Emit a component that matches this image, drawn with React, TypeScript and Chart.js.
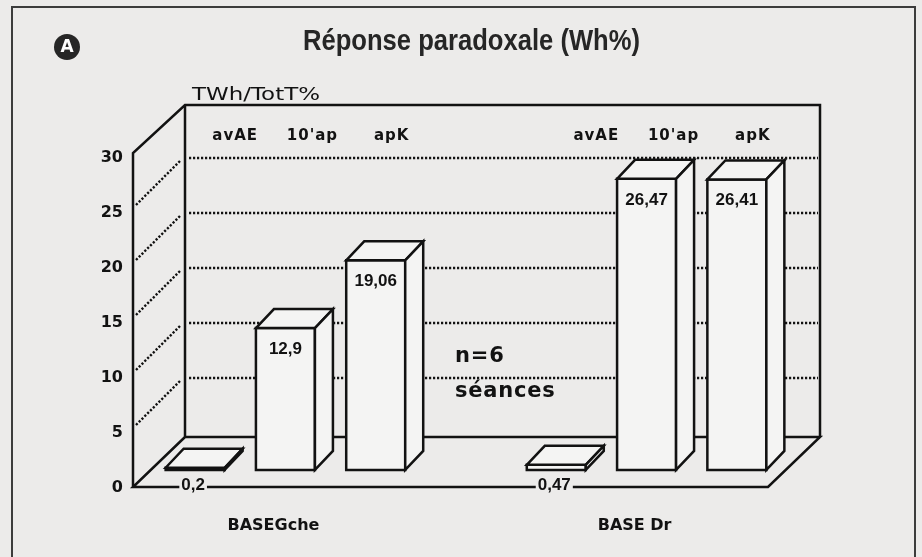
import React, { useEffect, useRef } from "react";
import { Chart, registerables } from "chart.js";

Chart.register(...registerables);

// ---------- data ----------
const CATEGORIES = ["avAE", "10'ap", "apK", "", "avAE", "10'ap", "apK"];
const VALUES: (number | null)[] = [0.2, 12.9, 19.06, null, 0.47, 26.47, 26.41];
const GROUP_LABELS = ["BASEGche", "BASE Dr"];
const GROUP_MIDDLE_INDEX = [1, 5];
const Y_TICKS = [0, 5, 10, 15, 20, 25, 30];
const TITLE = "Réponse paradoxale (Wh%)";
const Y_TITLE = "TWh/TotT%";
const NOTE_LINES = ["n=6", "séances"];
const BADGE = "A";

// ---------- style / layout ----------
const PAPER = "#ecebea";
const BAR_FILL = "#f4f4f3";
const INK = "#121212";
const DEPTH = 52; // floor depth in px
const BAR_DX = 18;
const BAR_DY = -19;
const TOP_LABEL_SHIFT = [40, 27, 16];

function fmt(v: number) {
  return String(v).replace(".", ",");
}

function fitText(
  ctx: CanvasRenderingContext2D,
  text: string,
  x: number,
  y: number,
  font: string,
  width: number,
  align: CanvasTextAlign
) {
  ctx.save();
  ctx.font = font;
  const w = ctx.measureText(text).width;
  const s = width / w;
  ctx.translate(x, y);
  ctx.scale(s, 1);
  ctx.textAlign = align;
  ctx.textBaseline = "alphabetic";
  ctx.fillText(text, 0, 0);
  ctx.restore();
}

const decorPlugin = {
  id: "decor3d",
  beforeDraw(chart: any) {
    const ctx: CanvasRenderingContext2D = chart.ctx;
    const ys = chart.scales.y;
    const xs = chart.scales.x;
    ctx.save();
    ctx.fillStyle = PAPER;
    ctx.fillRect(0, 0, chart.width, chart.height);

    // outer frame
    ctx.strokeStyle = "#3c3c3c";
    ctx.lineWidth = 2;
    ctx.strokeRect(12, 7, 903, 600);

    // badge
    ctx.fillStyle = "#262626";
    ctx.beginPath();
    ctx.arc(67, 47, 13, 0, Math.PI * 2);
    ctx.fill();
    ctx.fillStyle = "#ffffff";
    ctx.font = "bold 17px 'DejaVu Sans', sans-serif";
    ctx.textAlign = "center";
    ctx.textBaseline = "middle";
    ctx.fillText(BADGE, 67, 48);

    // title
    ctx.fillStyle = "#262626";
    fitText(ctx, TITLE, 471.5, 50, "bold 30px 'Liberation Sans Narrow', 'Liberation Sans', sans-serif", 337, "center");

    // y title
    ctx.fillStyle = INK;
    fitText(ctx, Y_TITLE, 192, 100, "18px 'DejaVu Sans', sans-serif", 128, "left");

    // geometry
    const floorFront = ys.getPixelForValue(0) - 1;
    const floorBack = floorFront - DEPTH + 2;
    const frontLeft = 133;
    const backLeft = frontLeft + DEPTH;
    const backRight = 820;
    const frontRight = backRight - DEPTH;
    const wallTop = 105;
    const frontTop = 153;

    // dotted gridlines on back wall
    ctx.strokeStyle = INK;
    ctx.lineWidth = 2.4;
    ctx.setLineDash([2.2, 1.8]);
    for (const v of Y_TICKS) {
      const by = ys.getPixelForValue(v);
      if (by > floorBack - 8) continue;
      ctx.beginPath();
      ctx.moveTo(backLeft + 4, by);
      ctx.lineTo(backRight - 2, by);
      ctx.stroke();
      // left wall diagonals
      ctx.beginPath();
      ctx.moveTo(frontLeft + 3, by + DEPTH - 5);
      ctx.lineTo(backLeft - 4, by + 2);
      ctx.stroke();
    }
    ctx.setLineDash([]);

    // walls & floor outline
    ctx.lineWidth = 2.5;
    ctx.lineJoin = "miter";
    ctx.beginPath();
    ctx.moveTo(frontLeft, floorFront);
    ctx.lineTo(frontLeft, frontTop);
    ctx.lineTo(backLeft, wallTop);
    ctx.lineTo(backRight, wallTop);
    ctx.lineTo(backRight, floorBack);
    ctx.moveTo(backLeft, wallTop);
    ctx.lineTo(backLeft, floorBack);
    ctx.lineTo(backRight, floorBack);
    ctx.lineTo(frontRight, floorFront);
    ctx.lineTo(frontLeft, floorFront);
    ctx.lineTo(backLeft, floorBack);
    ctx.stroke();

    // y tick labels
    ctx.fillStyle = INK;
    ctx.font = "bold 16px 'DejaVu Sans', sans-serif";
    ctx.textAlign = "right";
    ctx.textBaseline = "middle";
    for (const v of Y_TICKS) {
      ctx.fillText(String(v), 123, ys.getPixelForValue(v));
    }

    // category labels along top of back wall
    ctx.font = "bold 15px 'DejaVu Sans', sans-serif";
    (ctx as any).letterSpacing = "1px";
    ctx.textAlign = "center";
    ctx.textBaseline = "alphabetic";
    const labels: string[] = xs.getLabels();
    let pos = 0;
    labels.forEach((lab, i) => {
      if (!lab) {
        pos = 0;
        return;
      }
      ctx.fillText(lab, xs.getPixelForValue(i) + TOP_LABEL_SHIFT[pos % 3], 140);
      pos++;
    });
    (ctx as any).letterSpacing = "0px";

    // group labels
    ctx.font = "bold 16px 'DejaVu Sans', sans-serif";
    GROUP_LABELS.forEach((g, k) => {
      ctx.fillText(g, xs.getPixelForValue(GROUP_MIDDLE_INDEX[k]) - 12, 530);
    });

    // note
    ctx.textAlign = "left";
    ctx.font = "bold 21px 'DejaVu Sans', sans-serif";
    (ctx as any).letterSpacing = "0.8px";
    ctx.fillText(NOTE_LINES[0], 455, 362);
    ctx.fillText(NOTE_LINES[1], 455, 397);
    (ctx as any).letterSpacing = "0px";
    ctx.restore();
  },
  afterDatasetsDraw(chart: any) {
    const ctx: CanvasRenderingContext2D = chart.ctx;
    const meta = chart.getDatasetMeta(0);
    const data = chart.data.datasets[0].data as (number | null)[];
    ctx.save();
    ctx.strokeStyle = INK;
    ctx.lineWidth = 2.5;
    ctx.lineJoin = "miter";
    meta.data.forEach((el: any, i: number) => {
      const v = data[i];
      if (v === null || v === undefined) return;
      const { x, y, base, width } = el.getProps(["x", "y", "base", "width"], true);
      const l = x - width / 2;
      const r = x + width / 2;
      const top = Math.min(y, base - 2);
      ctx.fillStyle = BAR_FILL;
      // front
      ctx.beginPath();
      ctx.rect(l, top, width, base - top);
      ctx.fill();
      ctx.stroke();
      // top face
      ctx.beginPath();
      ctx.moveTo(l, top);
      ctx.lineTo(l + BAR_DX, top + BAR_DY);
      ctx.lineTo(r + BAR_DX, top + BAR_DY);
      ctx.lineTo(r, top);
      ctx.closePath();
      ctx.fill();
      ctx.stroke();
      // side face
      ctx.beginPath();
      ctx.moveTo(r, top);
      ctx.lineTo(r + BAR_DX, top + BAR_DY);
      ctx.lineTo(r + BAR_DX, base + BAR_DY);
      ctx.lineTo(r, base);
      ctx.closePath();
      ctx.fill();
      ctx.stroke();

      // value labels
      const txt = fmt(v);
      ctx.font = "bold 17px 'Liberation Sans', sans-serif";
      ctx.textAlign = "center";
      ctx.textBaseline = "alphabetic";
      if (v < 1) {
        const tw = ctx.measureText(txt).width;
        ctx.fillStyle = PAPER;
        ctx.fillRect(x - tw / 2 - 4, base + 8, tw + 4, 13);
        ctx.fillStyle = INK;
        ctx.fillText(txt, x - 2, base + 20);
      } else {
        ctx.fillStyle = INK;
        ctx.fillText(txt, x, top + 26);
      }
    });
    ctx.restore();
  },
};

export default function App() {
  const ref = useRef<HTMLCanvasElement | null>(null);

  useEffect(() => {
    if (!ref.current) return;
    const chart = new Chart(ref.current, {
      type: "bar",
      data: {
        labels: CATEGORIES,
        datasets: [
          {
            data: VALUES,
            yAxisID: "yBar",
            backgroundColor: BAR_FILL,
            borderColor: INK,
            borderWidth: 2,
            borderSkipped: false,
            barThickness: 59,
          } as any,
        ],
      },
      options: {
        responsive: false,
        animation: false,
        events: [],
        layout: { padding: { left: 150, right: 140, top: 158, bottom: 69 } },
        plugins: {
          legend: { display: false },
          tooltip: { enabled: false },
          title: { display: false },
        },
        scales: {
          x: { type: "category", display: false, offset: true, grid: { display: false } },
          y: { type: "linear", display: false, min: 0, max: 30 },
          yBar: { type: "linear", display: false, min: -1.64, max: 28.36 },
        },
      },
      plugins: [decorPlugin as any],
    });
    return () => chart.destroy();
  }, []);

  return (
    <div style={{ position: "fixed", left: 0, top: 0, width: 922, height: 557, background: PAPER }}>
      <canvas ref={ref} width={922} height={557} style={{ display: "block", width: 922, height: 557 }} />
    </div>
  );
}
